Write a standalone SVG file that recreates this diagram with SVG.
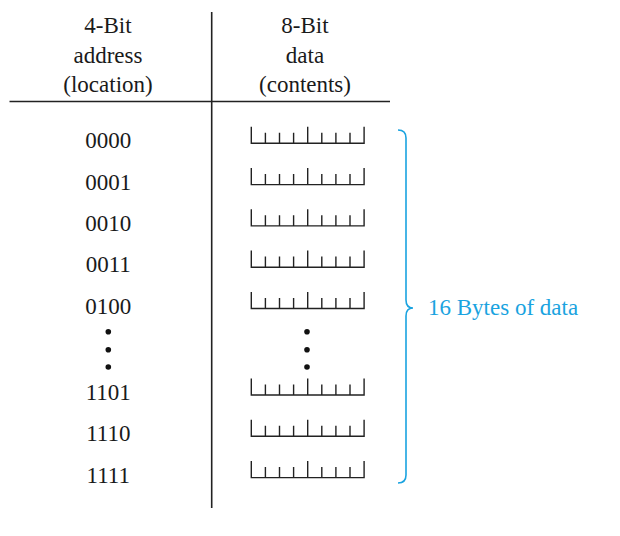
<svg xmlns="http://www.w3.org/2000/svg" width="620" height="536" viewBox="0 0 620 536">
<defs>
<style>
.t{font-family:"Liberation Serif","Times New Roman",serif;font-size:23px;fill:#1a1a1a;text-anchor:middle}
.b{font-family:"Liberation Serif","Times New Roman",serif;font-size:23px;fill:#1aa3e0}
.rule{stroke:#222;stroke-width:1.6;fill:none}
.byte{stroke:#222;stroke-width:1.4;fill:none}
.dot{fill:#111}
</style>
<g id="byteGlyph">
<path class="byte" d="M251.3,126.7V143.3H364.1V126.7M307.7,126.7V143.3M265.4,132.7V143.3M279.5,132.7V143.3M293.6,132.7V143.3M321.8,132.7V143.3M335.9,132.7V143.3M350,132.7V143.3"/>
</g>
</defs>
<rect width="620" height="536" fill="#fff"/>
<g id="header">
<text class="t" x="108" y="32.5">4-Bit</text>
<text class="t" x="108" y="62.5">address</text>
<text class="t" x="108" y="91.5">(location)</text>
<text class="t" x="305" y="32.5">8-Bit</text>
<text class="t" x="305" y="62.5">data</text>
<text class="t" x="305" y="91.5">(contents)</text>
</g>
<g id="rules">
<line class="rule" x1="211.7" y1="12" x2="211.7" y2="508"/>
<line class="rule" x1="9.5" y1="101.5" x2="390" y2="101.5"/>
</g>
<g id="row0000"><text class="t" x="108.3" y="148.3">0000</text><use href="#byteGlyph"/></g>
<g id="row0001"><text class="t" x="108.3" y="189.6">0001</text><use href="#byteGlyph" y="41.3"/></g>
<g id="row0010"><text class="t" x="108.3" y="230.9">0010</text><use href="#byteGlyph" y="82.6"/></g>
<g id="row0011"><text class="t" x="108.3" y="272.2">0011</text><use href="#byteGlyph" y="123.9"/></g>
<g id="row0100"><text class="t" x="108.3" y="313.5">0100</text><use href="#byteGlyph" y="165.2"/></g>
<g id="ellipsis">
<circle class="dot" cx="108.3" cy="331.7" r="2.8"/>
<circle class="dot" cx="108.3" cy="349.7" r="2.8"/>
<circle class="dot" cx="108.3" cy="367" r="2.8"/>
<circle class="dot" cx="307" cy="331.7" r="2.8"/>
<circle class="dot" cx="307" cy="349.7" r="2.8"/>
<circle class="dot" cx="307" cy="367" r="2.8"/>
</g>
<g id="row1101"><text class="t" x="108.3" y="400">1101</text><use href="#byteGlyph" y="251.7"/></g>
<g id="row1110"><text class="t" x="108.3" y="441.3">1110</text><use href="#byteGlyph" y="293"/></g>
<g id="row1111"><text class="t" x="108.3" y="482.6">1111</text><use href="#byteGlyph" y="334.3"/></g>
<g id="brace">
<path d="M398,130 Q406,130 406,138 V300 Q406,308 413,308 Q406,308 406,316 V475 Q406,483 398,483" fill="none" stroke="#1aa3e0" stroke-width="1.6"/>
<text class="b" x="428" y="315">16 Bytes of data</text>
</g>
</svg>
